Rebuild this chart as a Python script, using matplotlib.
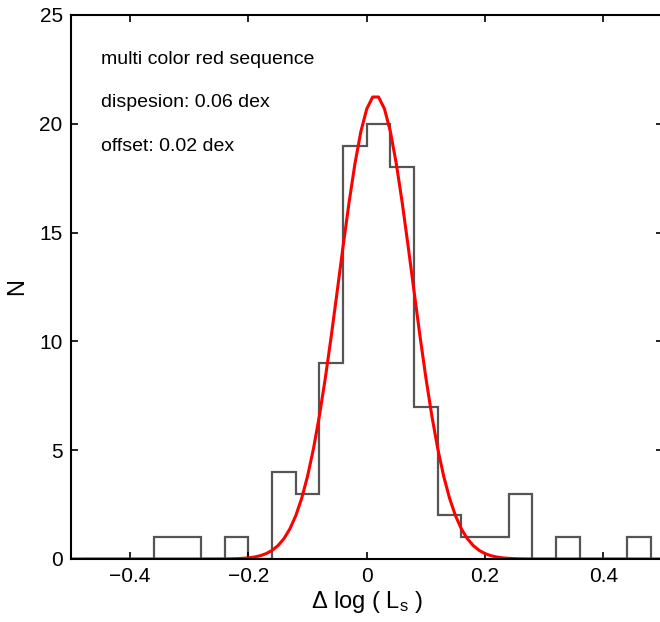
import numpy as np
import matplotlib
matplotlib.use("Agg")
import matplotlib.pyplot as plt

plt.rcParams["font.family"] = ["Liberation Sans", "DejaVu Sans"]
plt.rcParams["mathtext.fontset"] = "custom"
plt.rcParams["mathtext.rm"] = "Liberation Sans"
plt.rcParams["mathtext.it"] = "Liberation Sans"

# histogram of residuals, bins of 0.04 dex
bin_edges = [-0.48, -0.44, -0.40, -0.36, -0.32, -0.28, -0.24, -0.20, -0.16, -0.12,
             -0.08, -0.04, 0.00, 0.04, 0.08, 0.12, 0.16, 0.20, 0.24, 0.28,
             0.32, 0.36, 0.40, 0.44, 0.48]
counts = [0, 0, 0, 1, 1, 0, 1, 0, 4, 3,
          9, 19, 20, 18, 7, 2, 1, 1, 3, 0,
          1, 0, 0, 1]

# gaussian fit
fit_amp = 21.3
fit_mu = 0.015
fit_sigma = 0.062

fig = plt.figure(figsize=(6.6, 6.22), dpi=100)
ax = fig.add_axes([71 / 660, 1 - 559 / 622, 591.5 / 660, 544 / 622])

ax.stairs(counts, bin_edges, color="#555555", lw=1.6)

xs = np.linspace(-0.5, 0.5, 101)
ax.plot(xs, fit_amp * np.exp(-(xs - fit_mu) ** 2 / (2 * fit_sigma ** 2)), color="red", lw=2.2)

ax.set_xlim(-0.5, 0.5)
ax.set_ylim(0, 25)
ax.set_xticks([-0.4, -0.2, 0, 0.2, 0.4])
ax.set_xticklabels(["\u22120.4", "\u22120.2", "0", "0.2", "0.4"])
ax.set_yticks([0, 5, 10, 15, 20, 25])
ax.tick_params(direction="in", top=True, right=True, length=5, width=1.2, labelsize=15, pad=6)
for s in ax.spines.values():
    s.set_linewidth(1.5)

ax.set_xlabel("\u0394 log ( L$_{\\mathrm{s}}$ )", fontsize=17, labelpad=2)
ax.set_ylabel("N", fontsize=17, labelpad=8)

ax.text(0.05, 0.919, "multi color red sequence", transform=ax.transAxes, fontsize=14, va="center")
ax.text(0.05, 0.840, "dispesion: 0.06 dex", transform=ax.transAxes, fontsize=14, va="center")
ax.text(0.05, 0.759, "offset: 0.02 dex", transform=ax.transAxes, fontsize=14, va="center")

fig.savefig("out.png", dpi=100)
